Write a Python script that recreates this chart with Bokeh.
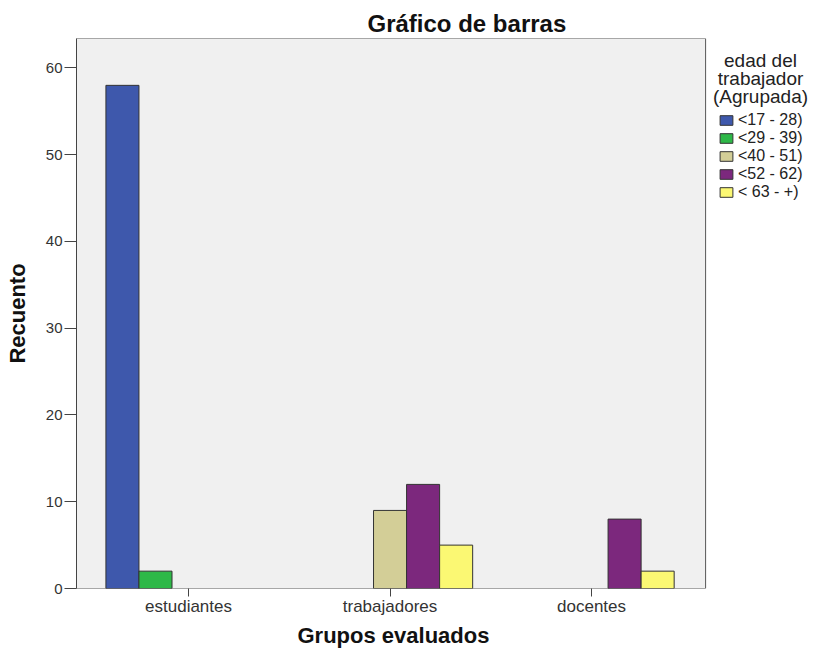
from bokeh.plotting import figure
from bokeh.models import (ColumnDataSource, Range1d, FixedTicker, Legend, LegendItem, Label,
                          BoxAnnotation, Title)
from bokeh.embed import file_html
from bokeh.resources import INLINE

# ---- data ----
groups = ["estudiantes", "trabajadores", "docentes"]
age_groups = ["<17 - 28)", "<29 - 39)", "<40 - 51)", "<52 - 62)", "< 63 - +)"]
c_17_28 = [58, 0, 0]
c_29_39 = [2, 0, 0]
c_40_51 = [0, 9, 0]
c_52_62 = [0, 12, 8]
c_63_up = [0, 5, 2]
series = [c_17_28, c_29_39, c_40_51, c_52_62, c_63_up]
colors = ["#3E58AC", "#2EB848", "#D3CE97", "#7C287D", "#FBF873"]
y_ticks = [0, 10, 20, 30, 40, 50, 60]
legend_title = ["edad del", "trabajador", "(Agrupada)"]

FONT = "Liberation Sans"
bar_w = 0.164
x_start, plot_end, x_end = -0.556, 2.566, 3.1015

p = figure(frame_width=737, frame_height=550,
           min_border_left=76, min_border_right=0, min_border_top=38, min_border_bottom=60,
           x_range=Range1d(x_start, x_end), y_range=Range1d(0, 63.4),
           output_backend="svg", toolbar_location=None,
           background_fill_color="#FFFFFF", border_fill_color="#FFFFFF")
p.outline_line_color = None
p.xgrid.visible = False
p.ygrid.visible = False

# visible plotting area (grey panel with frame)
p.add_layout(BoxAnnotation(right=plot_end, fill_color="#F0F0F0", fill_alpha=1,
                           line_color="#555555", line_alpha=1, line_width=1, level="underlay"))

p.title.text = "Gráfico de barras"
p.title.text_font = FONT
p.title.text_font_size = "24px"
p.title.text_font_style = "bold"
p.title.text_color = "#111111"
p.title.align = "left"
p.title.offset = 291
p.title.standoff = 3

items = []
for i, (name, vals, col) in enumerate(zip(age_groups, series, colors)):
    xs = [g + (i - 2) * bar_w for g, v in zip(range(len(groups)), vals) if v > 0]
    tops = [v for v in vals if v > 0]
    src = ColumnDataSource(dict(x=xs, top=tops))
    r = p.vbar(x="x", top="top", bottom=0, width=bar_w, source=src,
               fill_color=col, line_color="#333333", line_width=1)
    items.append(LegendItem(label=name, renderers=[r]))

# axes
p.xaxis.ticker = FixedTicker(ticks=[0, 1, 2])
p.xaxis.major_label_overrides = {0: groups[0], 1: groups[1], 2: groups[2]}
p.yaxis.ticker = FixedTicker(ticks=y_ticks)
for ax in (p.xaxis[0], p.yaxis[0]):
    ax.minor_tick_line_color = None
    ax.axis_line_color = "#444444"
    ax.major_tick_line_color = "#444444"
    ax.major_tick_in = 0
    ax.major_label_text_font = FONT
    ax.major_label_text_color = "#333333"
    ax.axis_label_text_font = FONT
    ax.axis_label_text_font_style = "bold"
    ax.axis_label_text_color = "#111111"
p.xaxis.axis_line_color = None
p.xaxis.major_label_text_font_size = "17px"
p.yaxis.major_label_text_font_size = "15px"
p.xaxis.major_tick_out = 8
p.yaxis.major_tick_out = 12
p.xaxis.major_label_standoff = 0
p.yaxis.major_label_standoff = 2
p.yaxis.axis_label = "Recuento"
p.yaxis.axis_label_text_font_size = "22px"
p.yaxis.axis_label_standoff = 13

# x-axis title, positioned under the visible plotting area
p.add_layout(Title(text="Grupos evaluados", align="left", offset=221, standoff=4,
                   text_font=FONT, text_font_size="22px", text_font_style="bold",
                   text_color="#111111"), "below")

legend = Legend(items=items, location=(642, 387),
                glyph_width=16, glyph_height=12, label_height=17, spacing=0,
                padding=0, margin=0, label_standoff=4,
                label_text_font=FONT, label_text_font_size="16px", label_text_color="#222222",
                border_line_color=None, background_fill_alpha=0)
p.add_layout(legend, "center")

for txt, yy in zip(legend_title, [528, 510, 492]):
    p.add_layout(Label(x=684, y=yy, x_units="screen", y_units="screen", text=txt,
                       text_align="center", text_baseline="middle",
                       text_font=FONT, text_font_size="19px", text_color="#222222"))

open("out.html", "w").write(file_html(p, INLINE))
